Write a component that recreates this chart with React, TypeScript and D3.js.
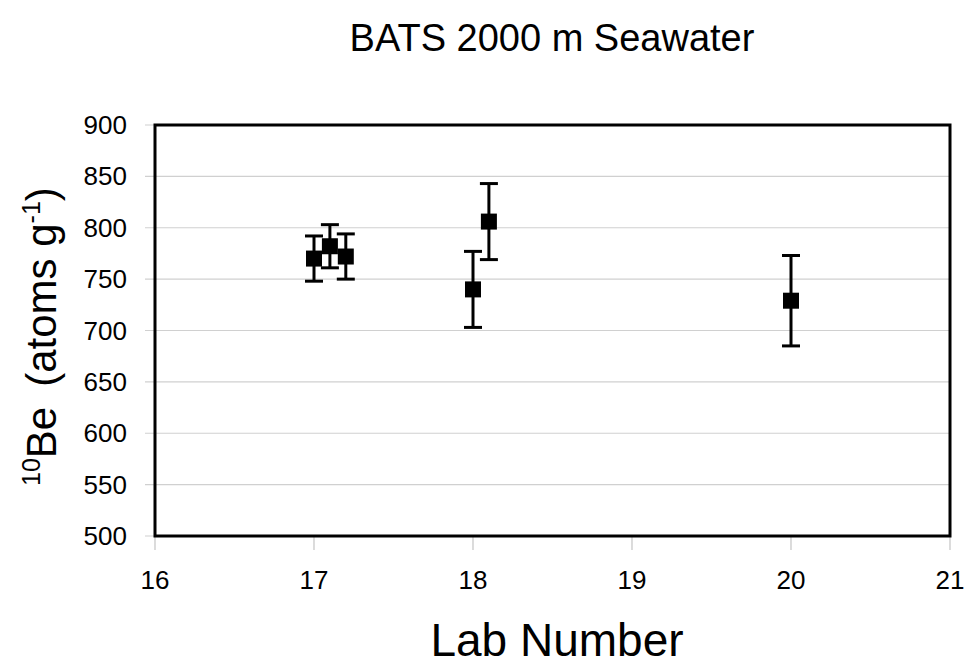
import React from "react";
import * as d3 from "d3";

// Lab results for 10Be in BATS 2000 m seawater
const labNumbers = [17.0, 17.1, 17.2, 18.0, 18.1, 20.0];
const beValues = [770, 782, 772, 740, 806, 729];
const beErrors = [22, 21, 22, 37, 37, 44];

const xTicks = [16, 17, 18, 19, 20, 21];
const yTicks = [500, 550, 600, 650, 700, 750, 800, 850, 900];

const W = 969;
const H = 667;
const M = { left: 155, right: 950, top: 125, bottom: 536 };
const FONT = "Liberation Sans, Arial, sans-serif";

export default function App() {
  const x = d3.scaleLinear().domain([16, 21]).range([M.left, M.right]);
  const y = d3.scaleLinear().domain([500, 900]).range([M.bottom, M.top]);
  const sq = 16;
  const cap = 9;

  return (
    <svg
      width={W}
      height={H}
      style={{ position: "absolute", left: 0, top: 0, background: "#fff" }}
      fontFamily={FONT}
    >
      <rect x={0} y={0} width={W} height={H} fill="#fff" />
      <text x={552} y={51} textAnchor="middle" fontSize={38} fill="#000">
        BATS 2000 m Seawater
      </text>

      {/* horizontal gridlines and y ticks */}
      {yTicks.map((t) => (
        <g key={t}>
          <line x1={M.left - 10} x2={M.right} y1={y(t)} y2={y(t)} stroke="#d0d0d0" strokeWidth={1.2} />
          <text x={127} y={y(t) + 9} textAnchor="end" fontSize={26} fill="#000">
            {t}
          </text>
        </g>
      ))}

      {/* x ticks */}
      {xTicks.map((t) => (
        <g key={t}>
          <line x1={x(t)} x2={x(t)} y1={M.bottom} y2={M.bottom + 14} stroke="#c4c4c4" strokeWidth={1.2} />
          <text x={x(t)} y={589} textAnchor="middle" fontSize={26} fill="#000">
            {t}
          </text>
        </g>
      ))}

      {/* plot frame */}
      <rect
        x={M.left}
        y={M.top}
        width={M.right - M.left}
        height={M.bottom - M.top}
        fill="none"
        stroke="#000"
        strokeWidth={3}
      />

      {/* error bars and markers */}
      {labNumbers.map((lab, i) => {
        const cx = x(lab);
        const v = beValues[i];
        const e = beErrors[i];
        const yTop = y(v + e);
        const yBot = y(v - e);
        return (
          <g key={i}>
            <line x1={cx} x2={cx} y1={yTop} y2={yBot} stroke="#000" strokeWidth={3} />
            <line x1={cx - cap} x2={cx + cap} y1={yTop} y2={yTop} stroke="#000" strokeWidth={3} />
            <line x1={cx - cap} x2={cx + cap} y1={yBot} y2={yBot} stroke="#000" strokeWidth={3} />
            <rect x={cx - sq / 2} y={y(v) - sq / 2} width={sq} height={sq} fill="#000" />
          </g>
        );
      })}

      <text x={557} y={656} textAnchor="middle" fontSize={46} fill="#000">
        Lab Number
      </text>

      <text
        transform="translate(56, 486) rotate(-90)"
        textAnchor="start"
        fontSize={42}
        fill="#000"
      >
        <tspan fontSize={25} dy={-16}>10</tspan>
        <tspan dy={16}>Be</tspan>
        <tspan dx={20}>(atoms g</tspan>
        <tspan fontSize={25} dy={-16}>-1</tspan>
        <tspan dy={16}>)</tspan>
      </text>
    </svg>
  );
}
